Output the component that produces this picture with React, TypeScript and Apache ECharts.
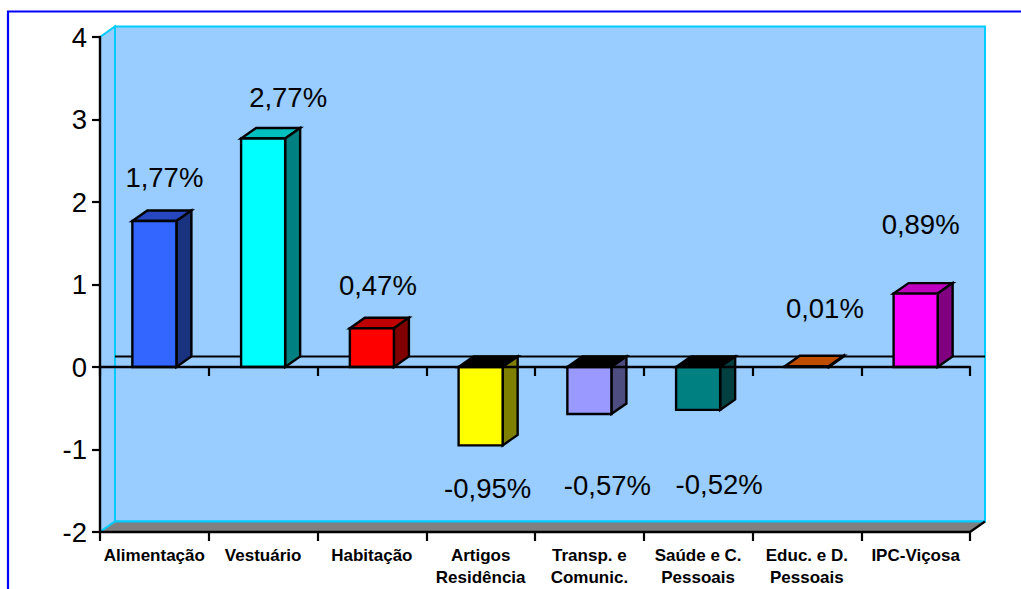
import React, { useEffect, useRef } from "react";
import * as echarts from "echarts";

const categories = ["Alimentação", "Vestuário", "Habitação", "Artigos\nResidência", "Transp. e\nComunic.", "Saúde e C.\nPessoais", "Educ. e D.\nPessoais", "IPC-Viçosa"];
const values = [1.77, 2.77, 0.47, -0.95, -0.57, -0.52, 0.01, 0.89];
const frontColors = ["#3366ff", "#00ffff", "#ff0000", "#ffff00", "#9999ff", "#008080", "#ff6600", "#ff00ff"];
const topColors = ["#2647bf", "#00bfbf", "#bf0000", "#000000", "#000000", "#000000", "#bf4d00", "#bf00bf"];
const sideColors = ["#1a3380", "#008080", "#800000", "#808000", "#4d4d80", "#004040", "#803300", "#800080"];
const labelDx = [10, 25, 6, 7, 18, 21, 18, 5];
const labelDy = [-43, -41, -43, 43, 71, 75, -58, -69];
const yMin = -2;
const yMax = 4;

const FONT = '"Liberation Sans", Arial, sans-serif';
const L = 100, R = 970, T = 37, B = 532, DX = 15, DY = 10.5;
const ZERO_Y = 367;

const renderBar = (params: any, api: any) => {
  const i = api.value(0);
  const v = api.value(1);
  const [cx, yv] = api.coord([i, v]);
  const [, y0] = api.coord([i, 0]);
  const w = api.size([1, 0])[0] * 0.405;
  const x0 = cx - w / 2;
  const x1 = cx + w / 2;
  const upper = Math.min(yv, y0);
  const lower = Math.max(yv, y0);
  const stroke = { stroke: "#000", lineWidth: 2.4, lineJoin: "miter" };
  return {
    type: "group",
    children: [
      { type: "polygon", shape: { points: [[x0, upper], [x0 + DX, upper - DY], [x1 + DX, upper - DY], [x1, upper]] }, style: { fill: topColors[i], ...stroke } },
      { type: "polygon", shape: { points: [[x1, upper], [x1 + DX, upper - DY], [x1 + DX, lower - DY], [x1, lower]] }, style: { fill: sideColors[i], ...stroke } },
      { type: "rect", shape: { x: x0, y: upper, width: w, height: lower - upper }, style: { fill: frontColors[i], ...stroke } },
      {
        type: "text",
        style: {
          text: v.toFixed(2).replace(".", ",") + "%",
          x: cx + labelDx[i],
          y: yv + labelDy[i],
          fill: "#000",
          fontSize: 27.5,
          fontFamily: FONT,
          align: "center",
          verticalAlign: "middle",
        },
      },
    ],
  };
};

const wallStroke = { stroke: "#00ccff", lineWidth: 2 };

export default function App() {
  const ref = useRef<HTMLDivElement>(null);
  useEffect(() => {
    document.body.style.margin = "0";
    const chart = echarts.init(ref.current!, undefined, { renderer: "svg" });
    const tx = R + DX;
    const ty = T - DY;
    const by = B - DY;
    const axisLine = { show: true, lineStyle: { color: "#000", width: 2.4 } };
    const axisTick = { show: true, length: 9, lineStyle: { color: "#000", width: 2.2 } };
    chart.setOption({
      animation: false,
      backgroundColor: "#fff",
      grid: { left: L, top: T, width: R - L, height: B - T, containLabel: false, outerBoundsMode: "none" },
      xAxis: [
        {
          type: "category",
          data: categories,
          z: 6,
          axisLine: { ...axisLine, onZero: true },
          axisTick,
          axisLabel: { show: false },
          splitLine: { show: false },
        },
        {
          type: "category",
          data: categories,
          position: "bottom",
          axisLine: { ...axisLine, onZero: false },
          axisTick,
          axisLabel: { interval: 0, margin: 12, color: "#000", fontFamily: FONT, fontWeight: "bold", fontSize: 17, lineHeight: 22.5, align: "center", verticalAlign: "top" },
          splitLine: { show: false },
        },
      ],
      yAxis: {
        type: "value",
        min: yMin,
        max: yMax,
        interval: 1,
        axisLine: { ...axisLine, onZero: false },
        axisTick: { show: true, length: 8, lineStyle: { color: "#000", width: 2.2 } },
        axisLabel: { margin: 13, color: "#000", fontFamily: FONT, fontSize: 27.5 },
        splitLine: { show: false },
      },
      graphic: [
        { type: "rect", z: -10, shape: { x: L + DX, y: ty, width: R - L, height: B - T }, style: { fill: "#99ccff", ...wallStroke } },
        { type: "polygon", z: -10, shape: { points: [[L, T], [L + DX, ty], [L + DX, by], [L, B]] }, style: { fill: "#99ccff", ...wallStroke } },
        { type: "polygon", z: -9, shape: { points: [[L, B], [L + DX, by], [tx, by], [R, B]] }, style: { fill: "#808080" } },
        { type: "line", z: -8, shape: { x1: L + DX, y1: by, x2: tx, y2: by }, style: wallStroke },
        { type: "line", z: -8, shape: { x1: L, y1: B, x2: L + DX, y2: by }, style: wallStroke },
        { type: "line", z: -8, shape: { x1: R, y1: B, x2: tx, y2: by }, style: { stroke: "#000", lineWidth: 2.2 } },
        { type: "line", z: -8, shape: { x1: L + DX, y1: ZERO_Y - DY, x2: tx, y2: ZERO_Y - DY }, style: { stroke: "#000", lineWidth: 2 } },
        { type: "polyline", z: -8, shape: { points: [[8, 589], [8, 11.5], [1021, 11.5]] }, style: { fill: "none", stroke: "#0000ff", lineWidth: 2.2 } },
      ],
      series: [
        {
          type: "custom",
          xAxisIndex: 0,
          yAxisIndex: 0,
          clip: false,
          z: 5,
          data: values.map((v, i) => [i, v]),
          encode: { x: 0, y: 1 },
          renderItem: renderBar,
        },
      ],
    });
    return () => chart.dispose();
  }, []);
  return <div ref={ref} style={{ width: 1021, height: 589 }} />;
}
